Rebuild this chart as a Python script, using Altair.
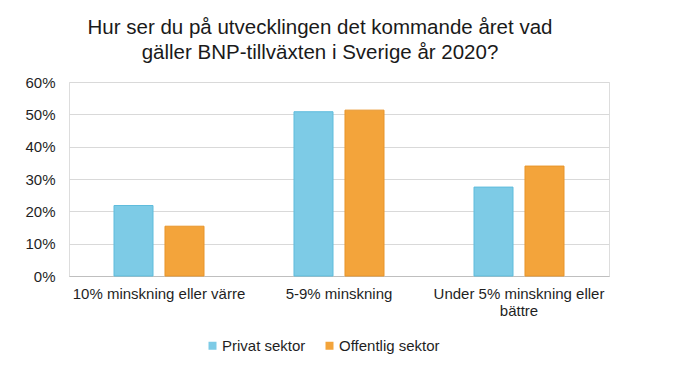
import altair as alt
import pandas as pd

categories = ["10% minskning eller värre", "5-9% minskning", "Under 5% minskning eller bättre"]
series = ["Privat sektor", "Offentlig sektor"]
privat = [0.218, 0.508, 0.275]
offentlig = [0.154, 0.513, 0.340]

rows = []
for i, c in enumerate(categories):
    rows.append({"kategori": c, "sektor": series[0], "andel": privat[i]})
    rows.append({"kategori": c, "sektor": series[1], "andel": offentlig[i]})
df = pd.DataFrame(rows)

FONT = "Liberation Sans"

chart = alt.Chart(df).mark_bar(strokeWidth=1).encode(
    x=alt.X("kategori:N", sort=categories, title=None,
            scale=alt.Scale(paddingInner=0.5, paddingOuter=0.25),
            axis=alt.Axis(labelAngle=0, ticks=False, domain=True, domainColor="#bfbfbf",
                          labelFontSize=15, labelColor="#1f1f1f", labelPadding=10,
                          labelFont=FONT, labelLimit=300, labelLineHeight=17,
                          labelExpr="datum.value == 'Under 5% minskning eller bättre' ? ['Under 5% minskning eller', 'bättre'] : datum.label")),
    xOffset=alt.XOffset("sektor:N", sort=series,
                        scale=alt.Scale(paddingInner=0.235, paddingOuter=0)),
    y=alt.Y("andel:Q", title=None,
            scale=alt.Scale(domain=[0, 0.6], nice=False),
            axis=alt.Axis(format=".0%", values=[0, 0.1, 0.2, 0.3, 0.4, 0.5, 0.6],
                          ticks=False, domain=False, gridColor="#d9d9d9",
                          labelFontSize=15, labelColor="#1f1f1f", labelPadding=14,
                          labelFont=FONT)),
    color=alt.Color("sektor:N", sort=series,
                    scale=alt.Scale(domain=series, range=["#7dcbe6", "#f3a43b"]),
                    legend=alt.Legend(title=None, orient="none", direction="horizontal",
                                      legendX=136, legendY=256,
                                      symbolType="square", symbolSize=64,
                                      symbolStrokeWidth=0, symbolOpacity=1,
                                      labelFontSize=15, labelColor="#1f1f1f",
                                      labelFont=FONT, labelOffset=2, columnPadding=16)),
    stroke=alt.Stroke("sektor:N", sort=series,
                      scale=alt.Scale(domain=series, range=["#5fbcdc", "#e8952a"]),
                      legend=None),
).properties(
    width=540,
    height=194,
    title=alt.TitleParams(
        ["Hur ser du på utvecklingen det kommande året vad",
         "gäller BNP-tillväxten i Sverige år 2020?"],
        fontSize=20.5, font=FONT, fontWeight="normal", color="#1a1a1a",
        anchor="middle", frame="group", dx=-19, lineHeight=24.5, offset=12),
    autosize=alt.AutoSizeParams(type="none"),
    padding={"left": 61, "top": 74, "right": 83, "bottom": 106},
).configure_view(stroke=None).configure(background="white")

chart.save("out.html", embed_options={"renderer": "svg", "actions": False})
